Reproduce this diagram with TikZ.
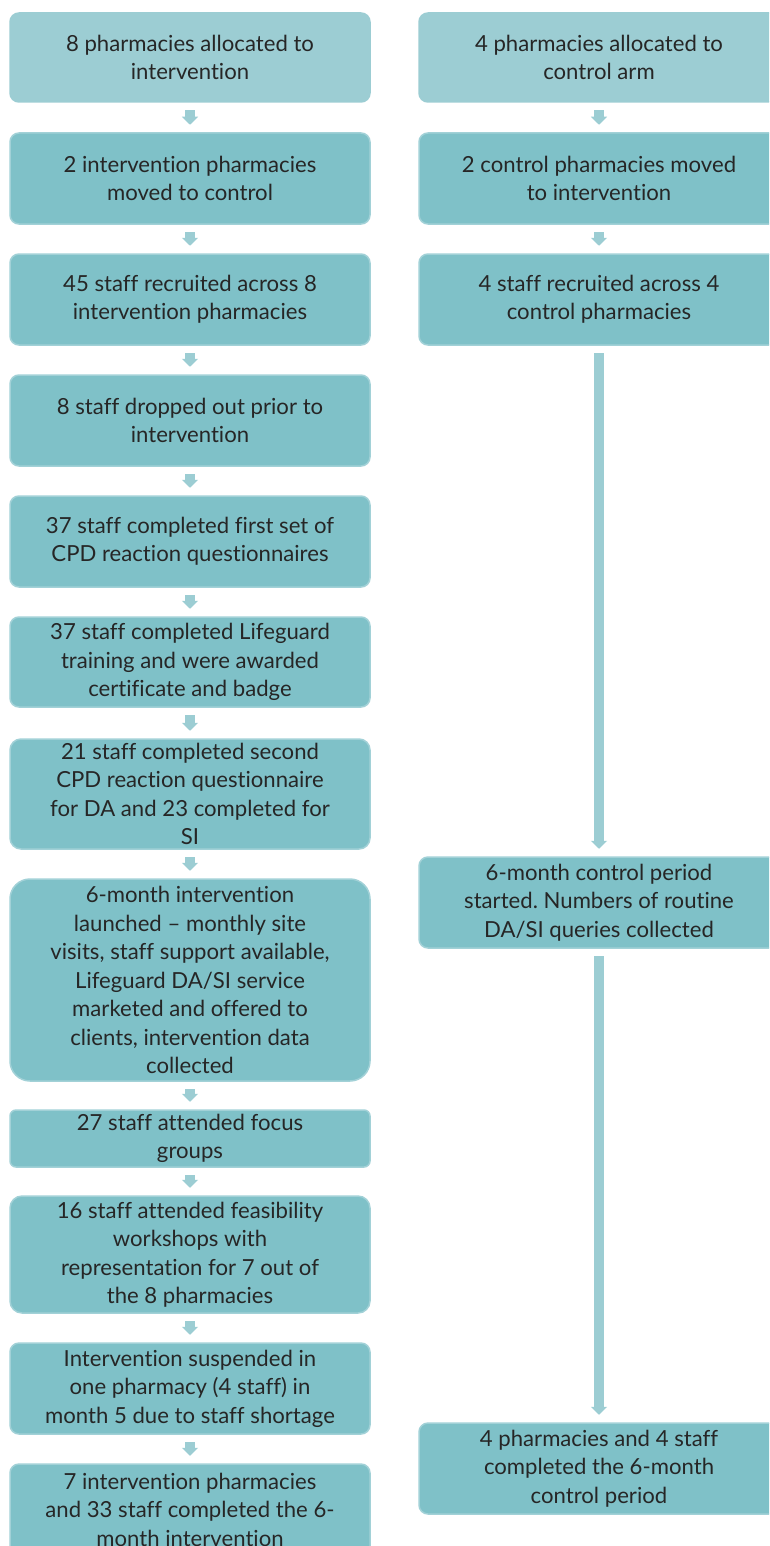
\documentclass[tikz,border=0pt]{standalone}
\usepackage{fontspec}
\setmainfont{Lato}[Ligatures=NoCommon]
\usepackage{tikz}
\usetikzlibrary{arrows.meta}
\frenchspacing

\definecolor{topfill}{HTML}{9CCDD3}
\definecolor{stepfill}{HTML}{7FC1C8}
\definecolor{stepline}{HTML}{A2D1D7}
\definecolor{flowcol}{HTML}{9CCDD3}
\definecolor{inktext}{HTML}{262626}

\tikzset{
  stage/.style={draw=stepline, fill=stepfill, line width=0.03cm, rounded corners=0.18cm,
    minimum width=7.2cm, minimum height=1.82cm, align=center, inner sep=0pt,
    text=inktext, font=\fontsize{12.6}{16.2}\selectfont},
  topstage/.style={stage, draw=topfill, fill=topfill},
  flow/.style={draw=flowcol, line width=0.21cm, shorten <=0.15cm, shorten >=0.15cm,
    -{Triangle[width=0.32cm, length=0.16cm]}},
}

\begin{document}
\begin{tikzpicture}
    \clip (0, 0) rectangle (15.38, -30.92);
    % intervention arm
    \node[topstage, minimum height=1.78cm] (I1) at (3.8, -1.15){8 pharmacies allocated to\\intervention};
    \node[stage] (I2) at (3.8, -3.57){2 intervention pharmacies\\moved to control};
    \node[stage] (I3) at (3.8, -5.99){45 staff recruited across 8\\intervention pharmacies};
    \node[stage] (I4) at (3.8, -8.41){8 staff dropped out prior to\\intervention};
    \node[stage] (I5) at (3.8, -10.83){37 staff completed first set of\\CPD reaction questionnaires};
    \node[stage, minimum height=1.8cm] (I6) at (3.8, -13.24){37 staff completed Lifeguard\\training and were awarded\\certificate and badge};
    \node[stage, minimum height=2.2cm, rounded corners=0.22cm] (I7) at (3.8, -15.88){21 staff completed second\\CPD reaction questionnaire\\for DA and 23 completed for\\SI};
    \node[stage, minimum height=4.04cm, rounded corners=0.4cm] (I8) at (3.8, -19.6){6-month intervention\\launched -- monthly site\\visits, staff support available,\\Lifeguard DA/SI service\\marketed and offered to\\clients, intervention data\\collected};
    \node[stage, minimum height=1.14cm, rounded corners=0.12cm] (I9) at (3.8, -22.77){27 staff attended focus\\groups};
    \node[stage, minimum height=2.34cm, rounded corners=0.24cm] (I10) at (3.8, -25.09){16 staff attended feasibility\\workshops with\\representation for 7 out of\\the 8 pharmacies};
    \node[stage] (I11) at (3.8, -27.77){Intervention suspended in\\one pharmacy (4 staff) in\\month 5 due to staff shortage};
    \node[stage] (I12) at (3.8, -30.19){7 intervention pharmacies\\and 33 staff completed the 6-\\month intervention};
    % control arm
    \node[topstage, minimum height=1.78cm] (C1) at (11.98, -1.15){4 pharmacies allocated to\\control arm};
    \node[stage] (C2) at (11.98, -3.57){2 control pharmacies moved\\to intervention};
    \node[stage] (C3) at (11.98, -5.99){4 staff recruited across 4\\control pharmacies};
    \node[stage] (C4) at (11.98, -18.05){6-month control period\\started. Numbers of routine\\DA/SI queries collected};
    \node[stage] (C5) at (11.98, -29.37){4 pharmacies and 4 staff\\completed the 6-month\\control period};
    \draw[flow] (I1)--(I2);
    \draw[flow] (I2)--(I3);
    \draw[flow] (I3)--(I4);
    \draw[flow] (I4)--(I5);
    \draw[flow] (I5)--(I6);
    \draw[flow] (I6)--(I7);
    \draw[flow] (I7)--(I8);
    \draw[flow] (I8)--(I9);
    \draw[flow] (I9)--(I10);
    \draw[flow] (I10)--(I11);
    \draw[flow] (I11)--(I12);
    \draw[flow] (C1)--(C2);
    \draw[flow] (C2)--(C3);
    \draw[flow] (C3)--(C4);
    \draw[flow] (C4)--(C5);
  \end{tikzpicture}
\end{document}
